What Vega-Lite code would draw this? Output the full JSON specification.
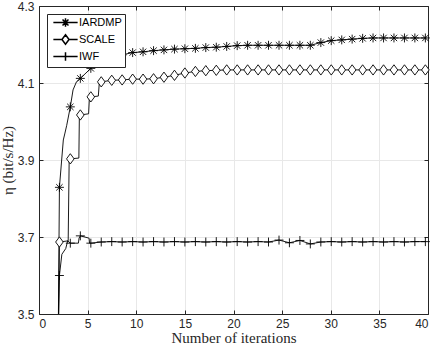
{
  "$schema": "https://vega.github.io/schema/vega-lite/v6.json",
  "width": 389,
  "height": 308,
  "autosize": {"type": "none"},
  "padding": {"left": 39, "top": 6, "right": 8, "bottom": 33},
  "background": "white",
  "config": {
    "view": {"stroke": null},
    "axis": {
      "labelFont": "Liberation Sans",
      "labelFontSize": 12,
      "labelColor": "#262626",
      "titleFont": "Liberation Serif",
      "titleFontSize": 15,
      "titleFontWeight": "normal",
      "titleColor": "#262626",
      "domainColor": "#262626",
      "tickColor": "#262626",
      "tickSize": -4,
      "gridColor": "#e8e8e8",
      "gridWidth": 1
    }
  },
  "data": {
    "values": [
      {"s": "IARDMP", "x": 1.95, "y": 3.35, "m": 0},
      {"s": "IARDMP", "x": 2.1, "y": 3.829, "m": 1},
      {"s": "IARDMP", "x": 2.33, "y": 3.9, "m": 0},
      {"s": "IARDMP", "x": 2.5, "y": 3.952, "m": 0},
      {"s": "IARDMP", "x": 2.67, "y": 3.97, "m": 0},
      {"s": "IARDMP", "x": 2.85, "y": 3.99, "m": 0},
      {"s": "IARDMP", "x": 3.22, "y": 4.038, "m": 1},
      {"s": "IARDMP", "x": 3.5, "y": 4.082, "m": 0},
      {"s": "IARDMP", "x": 3.85, "y": 4.103, "m": 0},
      {"s": "IARDMP", "x": 4.25, "y": 4.112, "m": 1},
      {"s": "IARDMP", "x": 5.33, "y": 4.138, "m": 1},
      {"s": "IARDMP", "x": 6.40, "y": 4.157, "m": 1},
      {"s": "IARDMP", "x": 7.48, "y": 4.168, "m": 1},
      {"s": "IARDMP", "x": 8.55, "y": 4.173, "m": 1},
      {"s": "IARDMP", "x": 9.63, "y": 4.179, "m": 1},
      {"s": "IARDMP", "x": 10.70, "y": 4.181, "m": 1},
      {"s": "IARDMP", "x": 11.78, "y": 4.184, "m": 1},
      {"s": "IARDMP", "x": 12.85, "y": 4.186, "m": 1},
      {"s": "IARDMP", "x": 13.93, "y": 4.188, "m": 1},
      {"s": "IARDMP", "x": 15.00, "y": 4.189, "m": 1},
      {"s": "IARDMP", "x": 16.08, "y": 4.190, "m": 1},
      {"s": "IARDMP", "x": 17.15, "y": 4.192, "m": 1},
      {"s": "IARDMP", "x": 18.23, "y": 4.193, "m": 1},
      {"s": "IARDMP", "x": 19.30, "y": 4.195, "m": 1},
      {"s": "IARDMP", "x": 20.38, "y": 4.197, "m": 1},
      {"s": "IARDMP", "x": 21.45, "y": 4.198, "m": 1},
      {"s": "IARDMP", "x": 22.53, "y": 4.198, "m": 1},
      {"s": "IARDMP", "x": 23.60, "y": 4.198, "m": 1},
      {"s": "IARDMP", "x": 24.68, "y": 4.198, "m": 1},
      {"s": "IARDMP", "x": 25.75, "y": 4.198, "m": 1},
      {"s": "IARDMP", "x": 26.83, "y": 4.198, "m": 1},
      {"s": "IARDMP", "x": 27.90, "y": 4.198, "m": 1},
      {"s": "IARDMP", "x": 28.98, "y": 4.205, "m": 1},
      {"s": "IARDMP", "x": 30.05, "y": 4.210, "m": 1},
      {"s": "IARDMP", "x": 31.13, "y": 4.212, "m": 1},
      {"s": "IARDMP", "x": 32.20, "y": 4.214, "m": 1},
      {"s": "IARDMP", "x": 33.28, "y": 4.216, "m": 1},
      {"s": "IARDMP", "x": 34.35, "y": 4.217, "m": 1},
      {"s": "IARDMP", "x": 35.43, "y": 4.217, "m": 1},
      {"s": "IARDMP", "x": 36.50, "y": 4.217, "m": 1},
      {"s": "IARDMP", "x": 37.58, "y": 4.217, "m": 1},
      {"s": "IARDMP", "x": 38.65, "y": 4.217, "m": 1},
      {"s": "IARDMP", "x": 39.73, "y": 4.217, "m": 1},

      {"s": "SCALE", "x": 1.9, "y": 3.2, "m": 0},
      {"s": "SCALE", "x": 2.1, "y": 3.687, "m": 1},
      {"s": "SCALE", "x": 3.0, "y": 3.69, "m": 0},
      {"s": "SCALE", "x": 3.1, "y": 3.895, "m": 0},
      {"s": "SCALE", "x": 3.22, "y": 3.903, "m": 1},
      {"s": "SCALE", "x": 4.1, "y": 3.905, "m": 0},
      {"s": "SCALE", "x": 4.15, "y": 4.012, "m": 0},
      {"s": "SCALE", "x": 4.25, "y": 4.017, "m": 1},
      {"s": "SCALE", "x": 5.1, "y": 4.02, "m": 0},
      {"s": "SCALE", "x": 5.18, "y": 4.06, "m": 0},
      {"s": "SCALE", "x": 5.33, "y": 4.064, "m": 1},
      {"s": "SCALE", "x": 6.1, "y": 4.066, "m": 0},
      {"s": "SCALE", "x": 6.2, "y": 4.1, "m": 0},
      {"s": "SCALE", "x": 6.40, "y": 4.103, "m": 1},
      {"s": "SCALE", "x": 7.48, "y": 4.107, "m": 1},
      {"s": "SCALE", "x": 8.55, "y": 4.108, "m": 1},
      {"s": "SCALE", "x": 9.63, "y": 4.110, "m": 1},
      {"s": "SCALE", "x": 10.70, "y": 4.110, "m": 1},
      {"s": "SCALE", "x": 11.78, "y": 4.111, "m": 1},
      {"s": "SCALE", "x": 12.85, "y": 4.115, "m": 1},
      {"s": "SCALE", "x": 13.93, "y": 4.120, "m": 1},
      {"s": "SCALE", "x": 15.00, "y": 4.126, "m": 1},
      {"s": "SCALE", "x": 16.08, "y": 4.130, "m": 1},
      {"s": "SCALE", "x": 17.15, "y": 4.132, "m": 1},
      {"s": "SCALE", "x": 18.23, "y": 4.133, "m": 1},
      {"s": "SCALE", "x": 19.30, "y": 4.134, "m": 1},
      {"s": "SCALE", "x": 20.38, "y": 4.134, "m": 1},
      {"s": "SCALE", "x": 21.45, "y": 4.134, "m": 1},
      {"s": "SCALE", "x": 22.53, "y": 4.134, "m": 1},
      {"s": "SCALE", "x": 23.60, "y": 4.134, "m": 1},
      {"s": "SCALE", "x": 24.68, "y": 4.134, "m": 1},
      {"s": "SCALE", "x": 25.75, "y": 4.134, "m": 1},
      {"s": "SCALE", "x": 26.83, "y": 4.134, "m": 1},
      {"s": "SCALE", "x": 27.90, "y": 4.134, "m": 1},
      {"s": "SCALE", "x": 28.98, "y": 4.134, "m": 1},
      {"s": "SCALE", "x": 30.05, "y": 4.134, "m": 1},
      {"s": "SCALE", "x": 31.13, "y": 4.134, "m": 1},
      {"s": "SCALE", "x": 32.20, "y": 4.134, "m": 1},
      {"s": "SCALE", "x": 33.28, "y": 4.134, "m": 1},
      {"s": "SCALE", "x": 34.35, "y": 4.134, "m": 1},
      {"s": "SCALE", "x": 35.43, "y": 4.134, "m": 1},
      {"s": "SCALE", "x": 36.50, "y": 4.134, "m": 1},
      {"s": "SCALE", "x": 37.58, "y": 4.134, "m": 1},
      {"s": "SCALE", "x": 38.65, "y": 4.134, "m": 1},
      {"s": "SCALE", "x": 39.73, "y": 4.134, "m": 1},

      {"s": "IWF", "x": 1.95, "y": 3.42, "m": 0},
      {"s": "IWF", "x": 2.1, "y": 3.600, "m": 1},
      {"s": "IWF", "x": 2.35, "y": 3.655, "m": 0},
      {"s": "IWF", "x": 2.75, "y": 3.67, "m": 0},
      {"s": "IWF", "x": 2.95, "y": 3.69, "m": 0},
      {"s": "IWF", "x": 3.22, "y": 3.684, "m": 1},
      {"s": "IWF", "x": 4.05, "y": 3.684, "m": 0},
      {"s": "IWF", "x": 4.12, "y": 3.697, "m": 0},
      {"s": "IWF", "x": 4.25, "y": 3.703, "m": 1},
      {"s": "IWF", "x": 5.15, "y": 3.697, "m": 0},
      {"s": "IWF", "x": 5.2, "y": 3.684, "m": 0},
      {"s": "IWF", "x": 5.33, "y": 3.684, "m": 1},
      {"s": "IWF", "x": 6.40, "y": 3.687, "m": 1},
      {"s": "IWF", "x": 7.48, "y": 3.688, "m": 1},
      {"s": "IWF", "x": 8.55, "y": 3.687, "m": 1},
      {"s": "IWF", "x": 9.63, "y": 3.688, "m": 1},
      {"s": "IWF", "x": 10.70, "y": 3.687, "m": 1},
      {"s": "IWF", "x": 11.78, "y": 3.688, "m": 1},
      {"s": "IWF", "x": 12.85, "y": 3.687, "m": 1},
      {"s": "IWF", "x": 13.93, "y": 3.688, "m": 1},
      {"s": "IWF", "x": 15.00, "y": 3.687, "m": 1},
      {"s": "IWF", "x": 16.08, "y": 3.688, "m": 1},
      {"s": "IWF", "x": 17.15, "y": 3.687, "m": 1},
      {"s": "IWF", "x": 18.23, "y": 3.688, "m": 1},
      {"s": "IWF", "x": 19.30, "y": 3.687, "m": 1},
      {"s": "IWF", "x": 20.38, "y": 3.688, "m": 1},
      {"s": "IWF", "x": 21.45, "y": 3.687, "m": 1},
      {"s": "IWF", "x": 22.53, "y": 3.688, "m": 1},
      {"s": "IWF", "x": 23.60, "y": 3.687, "m": 1},
      {"s": "IWF", "x": 24.68, "y": 3.692, "m": 1},
      {"s": "IWF", "x": 25.75, "y": 3.685, "m": 1},
      {"s": "IWF", "x": 26.83, "y": 3.691, "m": 1},
      {"s": "IWF", "x": 27.90, "y": 3.682, "m": 1},
      {"s": "IWF", "x": 28.98, "y": 3.687, "m": 1},
      {"s": "IWF", "x": 30.05, "y": 3.688, "m": 1},
      {"s": "IWF", "x": 31.13, "y": 3.687, "m": 1},
      {"s": "IWF", "x": 32.20, "y": 3.688, "m": 1},
      {"s": "IWF", "x": 33.28, "y": 3.687, "m": 1},
      {"s": "IWF", "x": 34.35, "y": 3.688, "m": 1},
      {"s": "IWF", "x": 35.43, "y": 3.687, "m": 1},
      {"s": "IWF", "x": 36.50, "y": 3.688, "m": 1},
      {"s": "IWF", "x": 37.58, "y": 3.687, "m": 1},
      {"s": "IWF", "x": 38.65, "y": 3.688, "m": 1},
      {"s": "IWF", "x": 39.73, "y": 3.688, "m": 1}
    ]
  },
  "resolve": {"axis": {"x": "independent", "y": "independent"}, "scale": {"shape": "independent"}},
  "layer": [
    {
      "mark": {"type": "line", "clip": true, "color": "black", "strokeWidth": 0.9},
      "encoding": {
        "x": {"field": "x", "type": "quantitative",
              "scale": {"domain": [0, 40], "nice": false},
              "axis": {"values": [0, 5, 10, 15, 20, 25, 30, 35, 40], "title": "Number of iterations", "labelPadding": 8, "titlePadding": 1, "grid": true}},
        "y": {"field": "y", "type": "quantitative",
              "scale": {"domain": [3.5, 4.3], "nice": false, "zero": false},
              "axis": {"values": [3.5, 3.7, 3.9, 4.1, 4.3], "format": ".1f", "title": "η (bit/s/Hz)", "titleFontSize": 15, "labelPadding": 9, "titlePadding": 2, "grid": true}},
        "detail": {"field": "s"}
      }
    },
    {
      "transform": [{"filter": "datum.m == 1"}],
      "mark": {"type": "point", "filled": true, "fill": "white", "stroke": "black", "strokeWidth": 0.9, "size": 80, "opacity": 1},
      "encoding": {
        "x": {"field": "x", "type": "quantitative", "scale": {"domain": [0, 40], "nice": false}, "axis": null},
        "y": {"field": "y", "type": "quantitative", "scale": {"domain": [3.5, 4.3], "nice": false, "zero": false}, "axis": null},
        "shape": {
          "field": "s", "type": "nominal",
          "scale": {
            "domain": ["IARDMP", "SCALE", "IWF"],
            "range": [
              "M-1,0L1,0M0,-1L0,1M-0.71,-0.71L0.71,0.71M-0.71,0.71L0.71,-0.71",
              "M0,-1.15L0.85,0L0,1.15L-0.85,0Z",
              "M-1,0L1,0M0,-1L0,1"
            ]
          },
          "legend": null
        }
      }
    },
    {
      "transform": [{"filter": "datum.m == 2"}],
      "mark": {"type": "point", "filled": true, "fill": "white", "stroke": "black", "strokeWidth": 0.9, "size": 70, "opacity": 1},
      "encoding": {
        "x": {"field": "x", "type": "quantitative", "scale": {"domain": [0, 40], "nice": false},
              "axis": {"orient": "top", "values": [0, 5, 10, 15, 20, 25, 30, 35, 40], "labels": false, "title": null, "grid": false}},
        "y": {"field": "y", "type": "quantitative", "scale": {"domain": [3.5, 4.3], "nice": false, "zero": false},
              "axis": {"orient": "right", "values": [3.5, 3.7, 3.9, 4.1, 4.3], "labels": false, "title": null, "grid": false}},
        "shape": {
          "field": "s", "type": "nominal",
          "scale": {
            "domain": ["IARDMP", "SCALE", "IWF"],
            "range": [
              "M-2.9,0L2.9,0M0,-1L0,1M-0.71,-0.71L0.71,0.71M-0.71,0.71L0.71,-0.71",
              "M-2.9,0L-0.85,0M0.85,0L2.9,0M0,-1.15L0.85,0L0,1.15L-0.85,0Z",
              "M-2.9,0L2.9,0M0,-1L0,1"
            ]
          },
          "legend": {
            "title": null,
            "orient": "top-left",
            "offset": 8,
            "fillColor": "white",
            "strokeColor": "#262626",
            "padding": 3,
            "labelFont": "Liberation Sans",
            "labelFontSize": 11,
            "labelColor": "black",
            "symbolSize": 70,
            "symbolOffset": 10,
            "labelOffset": 8,
            "rowPadding": 1,
            "encode": {
              "symbols": {
                "update": {
                  "fill": {"value": "white"},
                  "stroke": {"value": "black"},
                  "strokeWidth": {"value": 0.9},
                  "opacity": {"value": 1}
                }
              }
            }
          }
        }
      }
    }
  ]
}
